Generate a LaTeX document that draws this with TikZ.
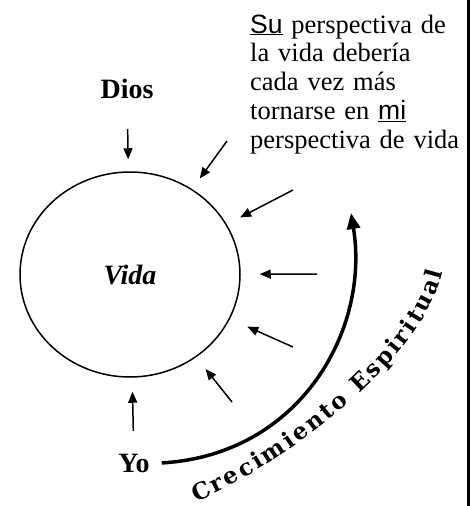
\documentclass[tikz,border=0pt]{standalone}
\usepackage{fontspec}
\setmainfont{Liberation Serif}
\newfontfamily\sufont{Liberation Sans}
\newfontfamily\wordart{DejaVu Serif}
\usetikzlibrary{arrows.meta,shapes.geometric,decorations.text}

\newcommand\bigtext{\fontsize{26.5pt}{28.8pt}\selectfont}
\newcommand\labeltext{\fontsize{28pt}{30pt}\selectfont\bfseries}
\newcommand\growthfont{\wordart\bfseries\fontsize{23pt}{27pt}\selectfont}

\tikzset{
    label/.style={font=\labeltext, inner sep=2pt},
    inarrow/.style={line width=1.5pt, -{Triangle[length=11pt,width=9pt]}},
    growth/.style={line width=3.5pt, -{Triangle[length=16pt,width=13pt]}}
}

\begin{document}
\begin{tikzpicture}[x=1pt,y=-1pt]
                \useasboundingbox (0,0) rectangle (474,506);
                \node[ellipse, draw, line width=1.5pt, minimum width=220pt, minimum height=205pt, font=\labeltext\itshape] (vida) at (130,274.5) {Vida};
                \node[label] (dios) at (127,89) {Dios};
                \node[label] (yo) at (134,463.5) {Yo};
                \node[font=\bigtext, inner sep=0pt, text width=225pt, align=left, anchor=base west] (persp) at (250,33)
                    {\underline{\sufont Su} perspectiva de\\ la vida debería\\ cada vez más\\ tornarse en \underline{\sufont mi}\\ perspectiva de vida};
                % arrows into the circle
                \coordinate (t1) at (227,141);
                \coordinate (t2) at (293,190);
                \coordinate (t3) at (317,274);
                \coordinate (t4) at (293,347);
                \coordinate (t5) at (232,402);
                \draw [inarrow, shorten <=28pt, shorten >=12pt] (dios) -- (vida);
                \draw [inarrow, shorten <=21pt, shorten >=14pt] (yo) -- (vida);
                \draw [inarrow, shorten >=13pt] (t1) -- (vida);
                \draw [inarrow, shorten >=15pt] (t2) -- (vida);
                \draw [inarrow, shorten >=19pt] (t3) -- (vida);
                \draw [inarrow, shorten >=19pt] (t4) -- (vida);
                \draw [inarrow, shorten >=15pt] (t5) -- (vida);
                % growth arc
                \coordinate (gend) at (351,213);
                \draw [growth, shorten <=10pt] (yo.east) .. controls (300,455) and (370,330) .. (gend);
                \path [decorate, decoration={text along path, text align=fit to path, text={|\growthfont|Crecimiento Espiritual}}]
                    (196,502) .. controls (292,460) and (422,360) .. (443,272);
                \draw [line width=3pt] (468.5,0) -- (468.5,506);
            \end{tikzpicture}
\end{document}
